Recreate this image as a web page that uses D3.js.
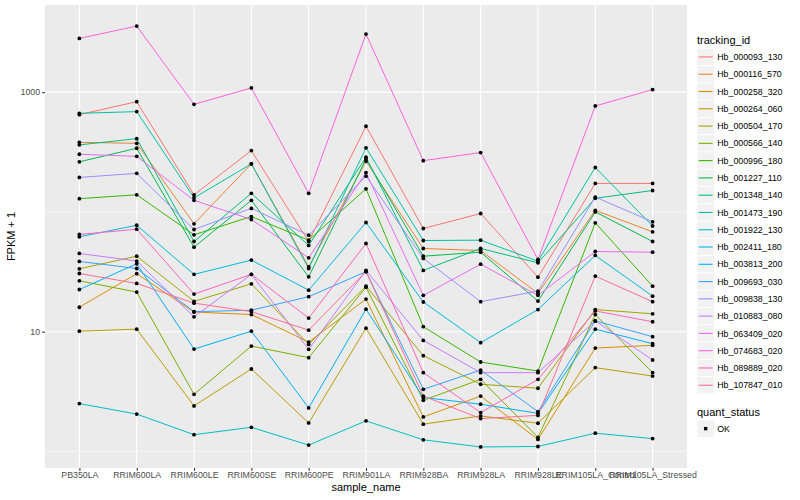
<!DOCTYPE html>
<html>
<head>
<meta charset="utf-8">
<script src="https://cdn.jsdelivr.net/npm/d3@7/dist/d3.min.js"></script>
<style>
  body { margin: 0; background: #fff; }
  text { font-family: "Liberation Sans", Arial, Helvetica, sans-serif; }
</style>
</head>
<body>
<svg id="chart" width="800" height="500"></svg>
<script>
"use strict";

// x categories
const samples = ["PB350LA", "RRIM600LA", "RRIM600LE", "RRIM600SE", "RRIM600PE", "RRIM901LA",
  "RRIM928BA", "RRIM928LA", "RRIM928LE", "RRIM105LA_Control", "RRIM105LA_Stressed"];

const trackingIds = ["Hb_000093_130", "Hb_000116_570", "Hb_000258_320", "Hb_000264_060",
  "Hb_000504_170", "Hb_000566_140", "Hb_000996_180", "Hb_001227_110", "Hb_001348_140",
  "Hb_001473_190", "Hb_001922_130", "Hb_002411_180", "Hb_003813_200", "Hb_009693_030",
  "Hb_009838_130", "Hb_010883_080", "Hb_063409_020", "Hb_074683_020", "Hb_089889_020",
  "Hb_107847_010"];

// ggplot default hue palette, 20 levels
const hueColors = ["#F8766D", "#EA8331", "#D89000", "#C09B00", "#A3A500", "#7CAE00", "#39B600",
  "#00BB4E", "#00BF7D", "#00C1A3", "#00BFC4", "#00BAE0", "#00B0F6", "#35A2FF", "#9590FF",
  "#C77CFF", "#E76BF3", "#FA62DB", "#FF62BC", "#FF6C91"];

// FPKM + 1, one row per tracking_id, one value per sample
const fpkm = [
  [649, 833, 139, 325, 56.6, 519, 72.7, 97, 28.5, 173, 173],          // 000093_130
  [381, 374, 79.6, 252, 34.8, 265, 49.5, 47.6, 20.9, 103, 68.2],      // 000116_570
  [16.0, 30.5, 14.6, 13.9, 8.19, 18.7, 1.94, 2.90, 1.26, 7.30, 7.69], // 000258_320
  [10.1, 10.5, 2.40, 4.88, 1.73, 10.7, 1.69, 1.98, 1.72, 5.01, 4.26], // 000264_060
  [33.5, 42.7, 17.9, 25.1, 7.83, 24.0, 6.31, 3.64, 3.37, 15.3, 14.1], // 000504_170
  [26.6, 21.4, 3.00, 7.58, 6.07, 23.5, 2.67, 4.00, 1.31, 13.9, 4.55], // 000566_140
  [129, 139, 64.4, 91.5, 58.1, 156, 11.0, 5.58, 4.69, 81.1, 24.0],    // 000996_180
  [262, 340, 50.8, 125, 28.7, 277, 42.7, 46.1, 18.0, 100, 56.6],      // 001227_110
  [363, 409, 56.6, 143, 52.5, 286, 32.5, 49.5, 37.6, 130, 151],       // 001348_140
  [666, 688, 131, 252, 33.7, 343, 57.7, 58.1, 38.8, 235, 76.3],       // 001473_190
  [2.51, 2.05, 1.38, 1.59, 1.13, 1.80, 1.25, 1.09, 1.10, 1.42, 1.28], // 001922_130
  [62.0, 77.4, 30.1, 39.6, 22.2, 81.6, 17.7, 8.09, 15.3, 43.3, 19.8], // 002411_180
  [22.5, 36.9, 7.16, 10.1, 2.31, 15.4, 2.82, 2.48, 2.08, 10.5, 7.94], // 003813_200
  [38.6, 33.7, 14.7, 15.1, 19.6, 31.7, 3.30, 4.78, 2.15, 12.3, 9.08], // 009693_030
  [194, 210, 71.3, 107, 63.9, 199, 40.9, 17.8, 21.8, 133, 82.7],      // 009838_130
  [45.0, 38.9, 13.3, 30.1, 7.12, 32.5, 8.46, 4.55, 4.55, 12.3, 5.80], // 010883_080
  [303, 291, 125, 86.4, 41.4, 213, 20.1, 36.6, 20.1, 46.7, 46.1],     // 063409_020
  [2810, 3565, 791, 1084, 143, 3057, 268, 313, 40.1, 767, 1050],      // 074683_020
  [64.8, 71.7, 20.6, 30.1, 13.0, 54.5, 4.55, 2.11, 4.00, 14.9, 12.1], // 089889_020
  [30.6, 25.3, 17.3, 14.7, 10.3, 31.8, 2.90, 1.88, 2.00, 29.1, 17.8]  // 107847_010
];

const yMajor = [10, 1000];
const yMinor = [1, 100];
const yTickLabels = ["10", "1000"];

const panel = { left: 45, right: 687, top: 5, bottom: 468 };
const svg = d3.select("#chart");

const x = d3.scalePoint().domain(samples).range([panel.left, panel.right]).padding(0.6);

// log scale with ggplot's 5% expansion in log space
const logs = fpkm.flat().map(Math.log10);
const [lo, hi] = d3.extent(logs);
const pad = (hi - lo) * 0.05;
const y = d3.scaleLog().domain([10 ** (lo - pad), 10 ** (hi + pad)]).range([panel.bottom, panel.top]);

// panel background + grid
svg.append("rect")
  .attr("x", panel.left).attr("y", panel.top)
  .attr("width", panel.right - panel.left).attr("height", panel.bottom - panel.top)
  .attr("fill", "#EBEBEB");

const grid = svg.append("g").attr("stroke", "#fff").attr("fill", "none");
grid.selectAll(".minor").data(yMinor).join("line")
  .attr("x1", panel.left).attr("x2", panel.right)
  .attr("y1", d => y(d)).attr("y2", d => y(d))
  .attr("stroke-width", 0.55);
grid.selectAll(".major").data(yMajor).join("line")
  .attr("x1", panel.left).attr("x2", panel.right)
  .attr("y1", d => y(d)).attr("y2", d => y(d))
  .attr("stroke-width", 1.1);
grid.selectAll(".vmajor").data(samples).join("line")
  .attr("x1", d => x(d)).attr("x2", d => x(d))
  .attr("y1", panel.top).attr("y2", panel.bottom)
  .attr("stroke-width", 1.1);

// series lines, then the points on top
const line = d3.line().x((d, i) => x(samples[i])).y(d => y(d));
svg.append("g").selectAll("path").data(fpkm).join("path")
  .attr("d", line)
  .attr("fill", "none")
  .attr("stroke", (d, i) => hueColors[i])
  .attr("stroke-width", 1);

svg.append("g").selectAll("g").data(fpkm).join("g")
  .selectAll("circle").data(d => d).join("circle")
  .attr("cx", (d, i) => x(samples[i]))
  .attr("cy", d => y(d))
  .attr("r", 1.9)
  .attr("fill", "#000");

// axes
const xAxis = svg.append("g").attr("transform", `translate(0,${panel.bottom})`)
  .call(d3.axisBottom(x).tickSize(2.75).tickPadding(1));
const yAxis = svg.append("g").attr("transform", `translate(${panel.left},0)`)
  .call(d3.axisLeft(y).tickValues(yMajor).tickFormat((d, i) => yTickLabels[i]).tickSize(2.75).tickPadding(2.2));
[xAxis, yAxis].forEach(a => {
  a.select(".domain").remove();
  a.selectAll(".tick line").attr("stroke", "#333333").attr("stroke-width", 1.1);
  a.selectAll(".tick text").attr("fill", "#4D4D4D").style("font-size", "8.8px")
    .style("font-family", "'Liberation Sans', Arial, sans-serif");
});

svg.append("text").attr("x", (panel.left + panel.right) / 2).attr("y", 491)
  .attr("text-anchor", "middle").style("font-size", "11px").attr("fill", "#000").text("sample_name");
svg.append("text").attr("transform", `translate(15,${(panel.top + panel.bottom) / 2}) rotate(-90)`)
  .attr("text-anchor", "middle").style("font-size", "11px").attr("fill", "#000").text("FPKM + 1");

// legend: tracking_id
const keySize = 17.28;
const lg = svg.append("g").attr("transform", "translate(697,0)");
lg.append("text").attr("x", 0).attr("y", 44).style("font-size", "11px").text("tracking_id");
const keys = lg.selectAll(".key").data(trackingIds).join("g")
  .attr("transform", (d, i) => `translate(0,${48.3 + i * keySize})`);
keys.append("rect").attr("width", keySize).attr("height", keySize)
  .attr("fill", "#F2F2F2").attr("stroke", "#fff").attr("stroke-width", 0.8);
keys.append("line").attr("x1", 1.7).attr("x2", keySize - 1.7)
  .attr("y1", keySize / 2).attr("y2", keySize / 2)
  .attr("stroke", (d, i) => hueColors[i]).attr("stroke-width", 1.1);
keys.append("text").attr("x", keySize + 3).attr("y", keySize / 2 + 3.1)
  .style("font-size", "8.8px").text(d => d);

// legend: quant_status
lg.append("text").attr("x", 0).attr("y", 415.5).style("font-size", "11px").text("quant_status");
const ok = lg.append("g").attr("transform", "translate(0,420)");
ok.append("rect").attr("width", keySize).attr("height", keySize)
  .attr("fill", "#F2F2F2").attr("stroke", "#fff").attr("stroke-width", 0.8);
ok.append("rect").attr("x", keySize / 2 - 1.7).attr("y", keySize / 2 - 1.7)
  .attr("width", 3.4).attr("height", 3.4).attr("fill", "#000");
ok.append("text").attr("x", keySize + 3).attr("y", keySize / 2 + 3.1)
  .style("font-size", "8.8px").text("OK");
</script>
</body>
</html>
